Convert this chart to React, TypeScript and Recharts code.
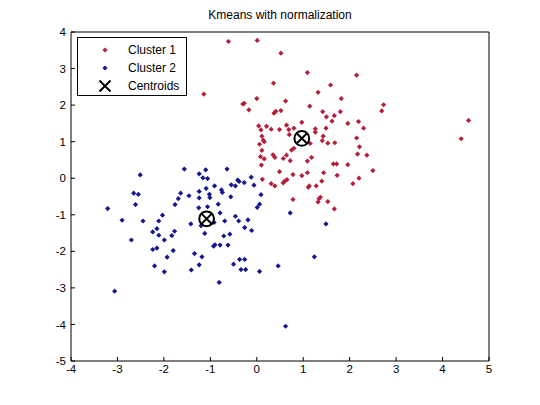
import React from "react";
import { ScatterChart, Scatter, XAxis, YAxis } from "recharts";

const cluster1: [number, number][] = [
  [0.01, 3.77], [0.52, 3.42], [1.09, 2.89], [2.15, 2.82], [0.36, 2.6], [1.59, 2.55],
  [1.32, 2.35], [0.0, 2.18], [0.62, 2.11], [1.82, 2.18], [-0.3, 2.03], [-0.27, 2.05],
  [2.73, 2.01], [1.14, 1.97], [-0.17, 1.87], [0.37, 1.78], [0.41, 1.83], [0.52, 1.85],
  [2.69, 1.84], [1.42, 1.82], [1.67, 1.71], [1.5, 1.68], [1.8, 1.82], [4.56, 1.58],
  [0.97, 1.53], [1.62, 1.56], [1.96, 1.5], [2.19, 1.55], [0.04, 1.43], [0.21, 1.42],
  [0.09, 1.32], [0.31, 1.34], [0.49, 1.33], [0.64, 1.45], [0.69, 1.33], [0.8, 1.37],
  [1.26, 1.35], [1.26, 1.26], [1.49, 1.37], [2.3, 1.37], [0.11, 1.15], [0.7, 1.19],
  [1.43, 1.15], [0.14, 1.04], [0.16, 1.0], [4.4, 1.08], [2.15, 1.1], [1.41, 1.03],
  [1.53, 0.96], [1.68, 0.97], [1.15, 0.95], [0.06, 0.93], [2.21, 0.86], [0.11, 0.76],
  [0.75, 0.77], [0.8, 0.82], [0.08, 0.59], [0.16, 0.53], [0.35, 0.64], [0.39, 0.57],
  [0.57, 0.54], [0.64, 0.63], [0.72, 0.48], [1.18, 0.57], [1.09, 0.47], [2.17, 0.66],
  [2.37, 0.63], [0.1, 0.36], [1.65, 0.39], [1.72, 0.39], [1.96, 0.37], [0.49, 0.18],
  [1.09, 0.15], [1.44, 0.15], [2.5, 0.21], [0.78, 0.1], [0.97, 0.07], [1.73, 0.08],
  [0.12, -0.03], [2.2, 0.0], [0.57, -0.13], [0.6, -0.08], [0.65, -0.04], [0.31, -0.15],
  [0.39, -0.21], [1.13, -0.21], [1.11, -0.25], [1.28, -0.21], [1.4, -0.08], [2.07, -0.15],
  [1.37, -0.52], [1.34, -0.56], [0.78, -0.58], [1.32, -0.65], [1.53, -0.64], [1.67, -0.84],
  [-0.61, 3.74], [-1.14, 2.3],
];

const cluster2: [number, number][] = [
  [-1.56, 0.25], [-1.1, 0.23], [-0.64, 0.25], [-2.51, 0.09], [-1.24, 0.12], [-1.16, 0.01],
  [-1.06, -0.01], [-3.21, -0.83], [-2.65, -0.41], [-2.55, -0.44], [-2.61, -0.72], [-2.9, -1.15],
  [-2.45, -1.17], [-2.7, -1.69], [-2.24, -1.47], [-2.15, -1.38], [-2.11, -1.17], [-2.03, -1.01],
  [-2.11, -1.56], [-2.24, -1.95], [-2.15, -1.91], [-1.99, -1.69], [-2.2, -2.4], [-1.99, -2.56],
  [-1.93, -2.16], [-1.8, -1.98], [-1.83, -1.57], [-1.77, -1.45], [-1.76, -0.72], [-1.69, -0.56],
  [-1.64, -0.41], [-1.46, -0.48], [-1.42, -1.25], [-1.34, -2.06], [-1.41, -2.51], [-1.24, -2.37],
  [-1.18, -2.15], [-1.24, -0.54], [-1.24, -0.36], [-1.25, -0.81], [-1.12, -1.51], [-1.2, -1.3],
  [-1.09, -0.28], [-1.02, -0.44], [-1.01, -0.53], [-1.06, -0.78], [-0.91, -0.21], [-0.92, -1.21],
  [-0.83, -0.71], [-0.79, -0.95], [-0.76, -0.32], [-0.74, -0.39], [-0.69, -1.17], [-0.71, -1.58],
  [-0.93, -1.86], [-0.9, -1.82], [-0.79, -1.83], [-0.62, -1.83], [-0.58, -1.53], [-0.56, -0.51],
  [-0.55, -0.18], [-0.46, -0.21], [-0.81, -2.85], [-0.5, -2.35], [-0.46, -1.04], [-0.39, -1.17],
  [-0.37, -2.22], [-0.34, -2.5], [-0.41, -0.05], [-0.38, -0.09], [-0.27, -0.12], [-0.24, -2.5],
  [-0.26, -2.22], [-0.26, -1.35], [-0.19, -1.14], [-0.11, -1.43], [-0.12, 0.03], [-0.06, -0.19],
  [0.09, -0.45], [0.06, -0.71], [0.01, -0.8], [0.06, -2.55], [0.46, -2.4], [0.72, -0.95],
  [0.62, -4.05], [-3.06, -3.09], [1.49, -1.25], [1.24, -2.15],
];

const centroids: [number, number][] = [
  [0.97, 1.09],
  [-1.08, -1.11],
];

const xTicks = [-4, -3, -2, -1, 0, 1, 2, 3, 4, 5];
const yTicks = [-5, -4, -3, -2, -1, 0, 1, 2, 3, 4];
const legendLabels = ["Cluster 1", "Cluster 2", "Centroids"];
const titleText = "Kmeans with normalization";

const RED = "#b2203a";
const BLUE = "#16168e";
const FONT = "'Liberation Sans', Arial, sans-serif";

const toObj = (arr: [number, number][]) => arr.map(([x, y]) => ({ x, y }));

const Dot = (color: string) => (props: any) => {
  const { cx, cy } = props;
  if (cx == null || cy == null) return <g />;
  const r = 2.6;
  return (
    <path
      d={`M${cx},${cy - r}L${cx + r},${cy}L${cx},${cy + r}L${cx - r},${cy}Z`}
      fill={color}
    />
  );
};

const CentroidShape = (props: any) => {
  const { cx, cy } = props;
  if (cx == null || cy == null) return <g />;
  const d = 5.2;
  return (
    <g stroke="#000" strokeWidth={2} fill="none">
      <circle cx={cx} cy={cy} r={7.4} />
      <line x1={cx - d} y1={cy - d} x2={cx + d} y2={cy + d} />
      <line x1={cx - d} y1={cy + d} x2={cx + d} y2={cy - d} />
    </g>
  );
};

const tickStyle = { fontSize: 11.5, fill: "#000", fontFamily: FONT };

export default function App() {
  return (
    <div
      style={{
        position: "absolute",
        left: 0,
        top: 0,
        width: 540,
        height: 405,
        background: "#fff",
        fontFamily: FONT,
      }}
    >
      <ScatterChart
        width={540}
        height={405}
        margin={{ top: 2, right: 11, bottom: 14, left: 31 }}
      >
        <XAxis
          xAxisId="b"
          type="number"
          dataKey="x"
          domain={[-4, 5]}
          ticks={xTicks}
          orientation="bottom"
          height={30}
          tickSize={-4}
          tickMargin={8}
          tick={tickStyle}
          axisLine={{ stroke: "#000" }}
          tickLine={{ stroke: "#000" }}
          interval={0}
        />
        <XAxis
          xAxisId="t"
          type="number"
          dataKey="x"
          domain={[-4, 5]}
          ticks={xTicks}
          orientation="top"
          height={30}
          tickSize={-4}
          tick={false}
          axisLine={{ stroke: "#000" }}
          tickLine={{ stroke: "#000" }}
          interval={0}
        />
        <YAxis
          yAxisId="l"
          type="number"
          dataKey="y"
          domain={[-5, 4]}
          ticks={yTicks}
          orientation="left"
          width={40}
          tickSize={-4}
          tickMargin={9}
          tick={tickStyle}
          axisLine={{ stroke: "#000" }}
          tickLine={{ stroke: "#000" }}
          interval={0}
        />
        <YAxis
          yAxisId="r"
          type="number"
          dataKey="y"
          domain={[-5, 4]}
          ticks={yTicks}
          orientation="right"
          width={40}
          tickSize={-4}
          tick={false}
          axisLine={{ stroke: "#000" }}
          tickLine={{ stroke: "#000" }}
          interval={0}
        />
        <Scatter
          name={legendLabels[0]}
          data={toObj(cluster1)}
          xAxisId="b"
          yAxisId="l"
          shape={Dot(RED)}
          isAnimationActive={false}
        />
        <Scatter
          name={legendLabels[1]}
          data={toObj(cluster2)}
          xAxisId="b"
          yAxisId="l"
          shape={Dot(BLUE)}
          isAnimationActive={false}
        />
        <Scatter
          name={legendLabels[2]}
          data={toObj(centroids)}
          xAxisId="b"
          yAxisId="l"
          shape={CentroidShape}
          isAnimationActive={false}
        />
      </ScatterChart>

      <div
        style={{
          position: "absolute",
          left: 0,
          top: 8,
          width: 560,
          textAlign: "center",
          fontSize: 12,
          lineHeight: "14px",
          color: "#000",
        }}
      >
        {titleText}
      </div>

      <div
        style={{
          position: "absolute",
          left: 77,
          top: 37,
          width: 108,
          height: 57,
          border: "1px solid #000",
          background: "#fff",
          fontSize: 12,
          color: "#000",
        }}
      >
        {legendLabels.map((label, i) => (
          <div
            key={label}
            style={{
              position: "absolute",
              left: 0,
              top: [5, 23, 41][i],
              height: 14,
              width: 108,
              lineHeight: "14px",
            }}
          >
            <svg
              width={20}
              height={14}
              style={{ position: "absolute", left: 17, top: 0 }}
            >
              {i < 2 ? (
                <path d="M10,4.4L12.6,7L10,9.6L7.4,7Z" fill={i === 0 ? RED : BLUE} />
              ) : (
                <g stroke="#000" strokeWidth={2}>
                  <line x1={4.5} y1={1.5} x2={15.5} y2={12.5} />
                  <line x1={4.5} y1={12.5} x2={15.5} y2={1.5} />
                </g>
              )}
            </svg>
            <span style={{ position: "absolute", left: 50 }}>{label}</span>
          </div>
        ))}
      </div>
    </div>
  );
}
